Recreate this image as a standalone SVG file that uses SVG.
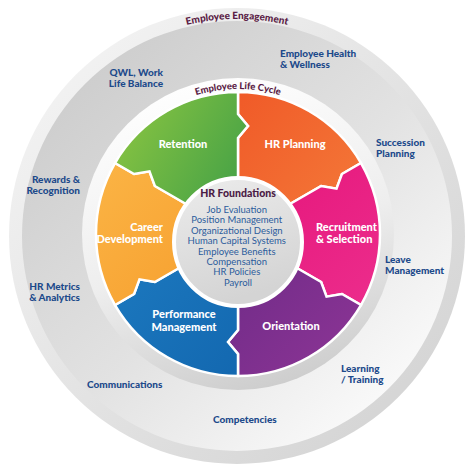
<svg xmlns="http://www.w3.org/2000/svg" width="474" height="467" viewBox="0 0 474 467">
  <defs>
    <linearGradient id="gRim" x1="0" y1="0" x2="1" y2="1">
      <stop offset="0" stop-color="#f7f7f7"/>
      <stop offset="1" stop-color="#d0d0d0"/>
    </linearGradient>
    <linearGradient id="gDisc" x1="0.1" y1="0.1" x2="0.85" y2="0.9">
      <stop offset="0" stop-color="#cccccc"/>
      <stop offset="0.55" stop-color="#e2e2e2"/>
      <stop offset="1" stop-color="#fafafa"/>
    </linearGradient>
    <linearGradient id="gRing" x1="0.3" y1="0" x2="0.6" y2="1">
      <stop offset="0" stop-color="#ffffff"/>
      <stop offset="0.55" stop-color="#eeeeee"/>
      <stop offset="1" stop-color="#cdcdcd"/>
    </linearGradient>
    <linearGradient id="gCore" x1="0" y1="0" x2="0.3" y2="1">
      <stop offset="0" stop-color="#ececec"/>
      <stop offset="1" stop-color="#d4d4d4"/>
    </linearGradient>
    <linearGradient id="gGreen" x1="0" y1="0" x2="1" y2="0.6">
      <stop offset="0" stop-color="#8fc741"/>
      <stop offset="1" stop-color="#46a246"/>
    </linearGradient>
    <linearGradient id="gOrange" x1="0" y1="0" x2="1" y2="1">
      <stop offset="0" stop-color="#f05a28"/>
      <stop offset="1" stop-color="#f47b3a"/>
    </linearGradient>
    <linearGradient id="gPink" x1="0" y1="0" x2="1" y2="1">
      <stop offset="0" stop-color="#e5147a"/>
      <stop offset="1" stop-color="#ec2d8c"/>
    </linearGradient>
    <linearGradient id="gPurple" x1="0" y1="0" x2="1" y2="1">
      <stop offset="0" stop-color="#6c2a86"/>
      <stop offset="1" stop-color="#8e3596"/>
    </linearGradient>
    <linearGradient id="gBlue" x1="0" y1="0" x2="1" y2="1">
      <stop offset="0" stop-color="#1d7ac0"/>
      <stop offset="1" stop-color="#1368b0"/>
    </linearGradient>
    <linearGradient id="gYellow" x1="0" y1="0" x2="1" y2="1">
      <stop offset="0" stop-color="#fbb445"/>
      <stop offset="1" stop-color="#f69d2c"/>
    </linearGradient>
    <path id="arcEng" d="M20,236 A217,217 0 0 1 454,236"/>
    <path id="arcLife" d="M93,234 A145,145 0 0 1 383,234"/>
  </defs>
  <style>
    .seg { stroke: #ffffff; stroke-width: 2.5; stroke-linejoin: miter; }
    .segtxt { font-family: Lato, "Liberation Sans", sans-serif; font-weight: 900; font-size: 11px; fill: #ffffff; }
    .outer { font-family: Lato, "Liberation Sans", sans-serif; font-weight: 900; font-size: 10px; fill: #1d4a8b; }
    .arc { font-family: Lato, "Liberation Sans", sans-serif; font-weight: 900; fill: #5a1c45; }
    .fh { font-family: Lato, "Liberation Sans", sans-serif; font-weight: 900; font-size: 10.5px; fill: #4b1b45; }
    .fl { font-family: Lato, "Liberation Sans", sans-serif; font-weight: 400; font-size: 9.5px; fill: #2c5c9c; }
  </style>

  <g id="background">
    <circle cx="237" cy="236" r="228" fill="url(#gRim)"/>
    <circle cx="237" cy="236" r="215" fill="url(#gDisc)"/>
    <circle cx="238" cy="234" r="156" fill="url(#gRing)"/>
  </g>

  <g id="employee-engagement">
    <text class="arc" font-size="10"><textPath href="#arcEng" startOffset="50%" text-anchor="middle">Employee Engagement</textPath></text>
  </g>
  <g id="employee-life-cycle">
    <text class="arc" font-size="9.5"><textPath href="#arcLife" startOffset="50%" text-anchor="middle">Employee Life Cycle</textPath></text>
  </g>

  <g id="hr-planning">
    <path class="seg" fill="url(#gOrange)" d="M238,234 L238,138 L248,126 L238,114 L238,92 A142,142 0 0 1 360.98,163 L341.92,174 L336.53,188.66 L321.14,186 Z"/>
    <text class="segtxt" x="295" y="148" text-anchor="middle">HR Planning</text>
  </g>
  <g id="recruitment-selection">
    <path class="seg" fill="url(#gPink)" d="M238,234 L321.14,186 L336.53,188.66 L341.92,174 L360.98,163 A142,142 0 0 1 360.98,305 L341.92,294 L326.53,296.66 L321.14,282 Z"/>
    <text class="segtxt" x="316" y="231">Recruitment<tspan x="316" y="243">&amp; Selection</tspan></text>
  </g>
  <g id="orientation">
    <path class="seg" fill="url(#gPurple)" d="M238,234 L321.14,282 L326.53,296.66 L341.92,294 L360.98,305 A142,142 0 0 1 238,376 L238,354 L228,342 L238,330 Z"/>
    <text class="segtxt" x="291" y="330" text-anchor="middle">Orientation</text>
  </g>
  <g id="performance-management">
    <path class="seg" fill="url(#gBlue)" d="M238,234 L238,330 L228,342 L238,354 L238,376 A142,142 0 0 1 115.02,305 L134.08,294 L139.47,279.34 L154.86,282 Z"/>
    <text class="segtxt" x="184" y="318" text-anchor="middle">Performance<tspan x="184" y="331">Management</tspan></text>
  </g>
  <g id="career-development">
    <path class="seg" fill="url(#gYellow)" d="M238,234 L154.86,282 L139.47,279.34 L134.08,294 L115.02,305 A142,142 0 0 1 115.02,163 L134.08,174 L149.47,171.34 L154.86,186 Z"/>
    <text class="segtxt" x="163" y="231" text-anchor="end">Career<tspan x="163" y="243">Development</tspan></text>
  </g>
  <g id="retention">
    <path class="seg" fill="url(#gGreen)" d="M238,234 L154.86,186 L149.47,171.34 L134.08,174 L115.02,163 A142,142 0 0 1 238,92 L238,114 L248,126 L238,138 Z"/>
    <text class="segtxt" x="183" y="148" text-anchor="middle">Retention</text>
  </g>

  <g id="hr-foundations">
    <circle cx="238" cy="242" r="64" fill="url(#gCore)" stroke="#ffffff" stroke-width="4"/>
    <text class="fh" x="238" y="197" text-anchor="middle">HR Foundations</text>
    <text class="fl" text-anchor="middle">
      <tspan x="238" y="213">Job Evaluation</tspan>
      <tspan x="238" y="223.4">Position Management</tspan>
      <tspan x="238" y="233.8">Organizational Design</tspan>
      <tspan x="238" y="244.2">Human Capital Systems</tspan>
      <tspan x="238" y="254.6">Employee Benefits</tspan>
      <tspan x="238" y="265">Compensation</tspan>
      <tspan x="238" y="275.4">HR Policies</tspan>
      <tspan x="238" y="285.8">Payroll</tspan>
    </text>
  </g>

  <g id="employee-health-wellness"><text class="outer" x="280" y="57">Employee Health<tspan x="280" y="68">&amp; Wellness</tspan></text></g>
  <g id="qwl-work-life-balance"><text class="outer" x="163" y="76" text-anchor="end">QWL, Work<tspan x="163" y="87">Life Balance</tspan></text></g>
  <g id="succession-planning"><text class="outer" x="376" y="146">Succession<tspan x="376" y="157">Planning</tspan></text></g>
  <g id="rewards-recognition"><text class="outer" x="80" y="183" text-anchor="end">Rewards &amp;<tspan x="80" y="194">Recognition</tspan></text></g>
  <g id="hr-metrics-analytics"><text class="outer" x="80" y="290" text-anchor="end">HR Metrics<tspan x="80" y="301">&amp; Analytics</tspan></text></g>
  <g id="leave-management"><text class="outer" x="385" y="263">Leave<tspan x="385" y="274">Management</tspan></text></g>
  <g id="learning-training"><text class="outer" x="341" y="372">Learning<tspan x="341" y="383">/ Training</tspan></text></g>
  <g id="communications"><text class="outer" x="87" y="388">Communications</text></g>
  <g id="competencies"><text class="outer" x="213" y="423">Competencies</text></g>

  <g id="connectors"/>
</svg>
